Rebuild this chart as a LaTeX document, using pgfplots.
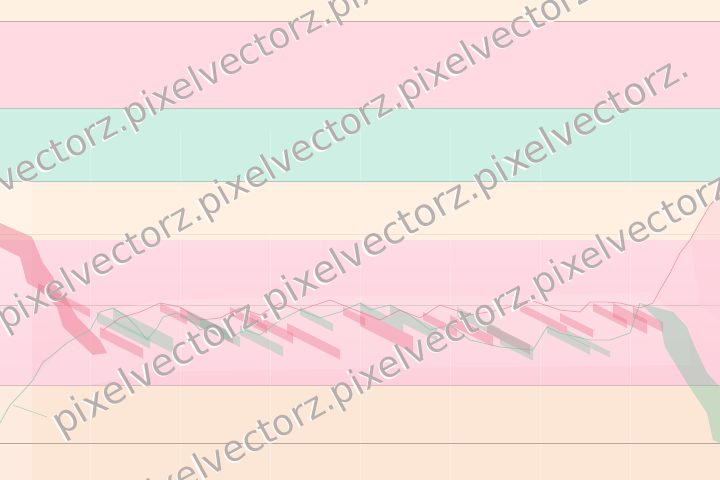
\documentclass[border=0pt]{standalone}
\usepackage{pgfplots}
\pgfplotsset{compat=1.18}
\usepackage{fontspec}
\setmainfont{DejaVu Sans}
\definecolor{creamA}{RGB}{254,241,225}
\definecolor{pinkA}{RGB}{255,218,226}
\definecolor{tealA}{RGB}{205,239,228}
\definecolor{creamB}{RGB}{255,240,226}
\definecolor{pinkB}{RGB}{255,219,228}
\definecolor{pinkC}{RGB}{253,208,220}
\definecolor{peach}{RGB}{252,231,214}
\definecolor{lnA}{RGB}{200,172,170}
\definecolor{lnB}{RGB}{175,200,190}
\definecolor{lnC}{RGB}{215,185,188}
\definecolor{lnD}{RGB}{185,165,155}
\definecolor{cR}{RGB}{232,105,130}
\definecolor{cG}{RGB}{120,195,165}
\definecolor{wm}{RGB}{165,157,156}
% candle: x1, y1 (top left), x2, thickness, colour
\newcommand\cdl[5]{%
  \addplot[fill=#5,draw=none,fill opacity=0.33,forget plot] coordinates {(#1,#2) (#3,#2+0.5*#3-0.5*#1) (#3,#2+0.5*#3-0.5*#1+#4) (#1,#2+#4)} -- cycle;}
\newcommand\band[3]{%
  \addplot[fill=#3,draw=none,forget plot] coordinates {(0,#1) (720,#1) (720,#2) (0,#2)} -- cycle;}
\newcommand\hl[2]{%
  \addplot[draw=#2,line width=0.8bp,forget plot] coordinates {(0,#1) (720,#1)};}
\newcommand\vl[1]{%
  \addplot[draw=white,opacity=0.25,line width=0.8bp,forget plot] coordinates {(#1,130) (#1,480)};}
\newcommand\wmrow[5]{% x, y, angle, size, text
  \node[rotate=#3,anchor=base west,text=white,opacity=0.9,font=\fontsize{#4}{#4}\selectfont] at ([xshift=-1.3bp,yshift=-1.3bp]axis cs:#1,#2) {#5};
  \node[rotate=#3,anchor=base west,text=wm,opacity=0.78,font=\fontsize{#4}{#4}\selectfont] at (axis cs:#1,#2) {#5};}
\begin{document}
\begin{tikzpicture}
\path[use as bounding box] (0,0) rectangle (720bp,480bp);
\clip (0,0) rectangle (720bp,480bp);
\begin{axis}[scale only axis, width=720bp, height=480bp,
  at={(0,0)}, anchor=south west,
  xmin=0, xmax=720, ymin=0, ymax=480, y dir=reverse,
  axis lines=none, clip=true]
% background bands
\band{0}{21}{creamA}
\band{21}{108}{pinkA}
\band{108}{181}{tealA}
\band{181}{240}{creamB}
\addplot[draw=none,top color=pinkB,bottom color=pinkC,forget plot] coordinates {(0,240) (720,240) (720,385) (0,385)} -- cycle;
\band{385}{480}{peach}
% left lighter column
\addplot[fill=white,fill opacity=0.2,draw=none,forget plot] coordinates {(0,181) (32,181) (32,480) (0,480)} -- cycle;
% faint vertical grid
\vl{90}\vl{180}\vl{270}\vl{360}\vl{450}\vl{540}\vl{630}
% horizontal lines
\hl{21}{lnA}
\hl{108}{lnB}
\hl{181}{lnB}
\addplot[draw=lnC,opacity=0.3,line width=0.6bp,forget plot] coordinates {(0,234) (720,234)};
\addplot[draw=lnC,opacity=0.8,line width=0.6bp,forget plot] coordinates {(0,305) (720,305)};
\hl{385}{lnC}
\hl{443}{lnD}
% light cloud areas
\addplot[fill=white,fill opacity=0.15,draw=none,forget plot] coordinates {(33,385) (33,380) (67,343) (100,312) (160,300) (330,296) (520,296) (650,292) (690,330) (690,365) (400,368) (150,372) (90,385)} -- cycle;
\addplot[fill=pinkC,fill opacity=0.5,draw=none,forget plot] coordinates {(690,240) (700,222) (720,188) (720,320) (700,305)} -- cycle;
% candles
\cdl{100}{327}{143}{10}{cR}
\cdl{160}{303}{187}{8}{cR}
\cdl{180}{307}{233}{10}{cR}
\cdl{230}{307}{267}{8}{cR}
\cdl{250}{312}{293}{10}{cR}
\cdl{287}{323}{340}{10}{cR}
\cdl{343}{307}{365}{8}{cR}
\cdl{360}{310}{413}{16}{cR}
\cdl{423}{312}{457}{8}{cR}
\cdl{450}{315}{493}{10}{cR}
\cdl{487}{323}{530}{10}{cR}
\cdl{520}{303}{567}{8}{cR}
\cdl{560}{313}{593}{8}{cR}
\cdl{593}{303}{627}{8}{cR}
\cdl{613}{303}{647}{14}{cR}
\cdl{633}{307}{663}{10}{cR}
\cdl{38}{283}{90}{8}{cR}
\cdl{97}{312}{150}{10}{cG}
\cdl{113}{308}{173}{15}{cG}
\cdl{187}{310}{230}{10}{cG}
\cdl{200}{317}{240}{10}{cG}
\cdl{240}{325}{283}{10}{cG}
\cdl{300}{307}{333}{8}{cG}
\cdl{360}{302}{403}{8}{cG}
\cdl{390}{305}{437}{12}{cG}
\cdl{457}{307}{500}{10}{cG}
\cdl{500}{330}{533}{14}{cG}
\cdl{547}{325}{590}{8}{cG}
\cdl{567}{330}{610}{6}{cG}
% big left red band
\addplot[fill=cR,fill opacity=0.4,draw=none,forget plot] coordinates {(0,223) (32,237) (43,263) (53,277) (57,287) (67,300) (77,317) (87,327) (100,340) (107,353) (93,355) (77,340) (63,327) (57,307) (40,290) (27,283) (20,257) (0,247)} -- cycle;
% big right green band
\addplot[fill=cG,fill opacity=0.38,draw=none,forget plot] coordinates {(640,303) (673,312) (687,327) (693,343) (707,373) (720,387) (720,443) (713,440) (707,413) (687,383) (665,347) (660,322)} -- cycle;
% thin green line
\addplot[draw=cG,opacity=0.6,line width=0.8bp,forget plot] coordinates {(0,423) (10,405) (27,387) (33,380) (43,362) (50,357) (67,343) (77,337) (90,330) (100,312) (113,308) (127,317) (137,327) (147,340) (157,328) (163,317) (177,313) (190,320) (200,330) (215,325) (230,338) (245,330) (260,335) (280,320) (300,310) (320,318) (340,312) (360,303) (370,310) (390,305) (410,315) (430,330) (450,325) (470,340) (500,347) (533,350) (547,327) (560,333) (590,340) (610,340) (630,333) (640,303)};
\addplot[draw=cG,opacity=0.5,line width=0.7bp,forget plot] coordinates {(13,405) (47,417)};
% thin red line
\addplot[draw=cR,opacity=0.5,line width=0.8bp,forget plot] coordinates {(103,330) (120,318) (140,312) (160,303) (180,307) (200,320) (220,318) (240,308) (260,315) (280,303) (300,310) (330,300) (360,312) (380,320) (400,310) (420,318) (440,305) (470,315) (500,310) (530,300) (560,310) (580,312) (590,302) (607,302) (620,303) (640,308) (653,303) (660,290) (670,273) (680,253) (690,240) (700,222) (710,205) (720,195)};
% watermark rows
\wmrow{-76}{236}{27.6}{36bp}{pixelvectorz.pixelvectorz.pixelvectorz.pixelvectorz.}
\wmrow{2}{333}{29.5}{36bp}{pixelvectorz.pixelvectorz.pixelvectorz.pixelvectorz.}
\wmrow{58}{438}{29.8}{38bp}{pixelvectorz.pixelvectorz.pixelvectorz.}
\wmrow{-69}{628}{28.5}{36bp}{pixelvectorz.pixelvectorz.pixelvectorz.pixelvectorz.}
\end{axis}
\end{tikzpicture}
\end{document}
